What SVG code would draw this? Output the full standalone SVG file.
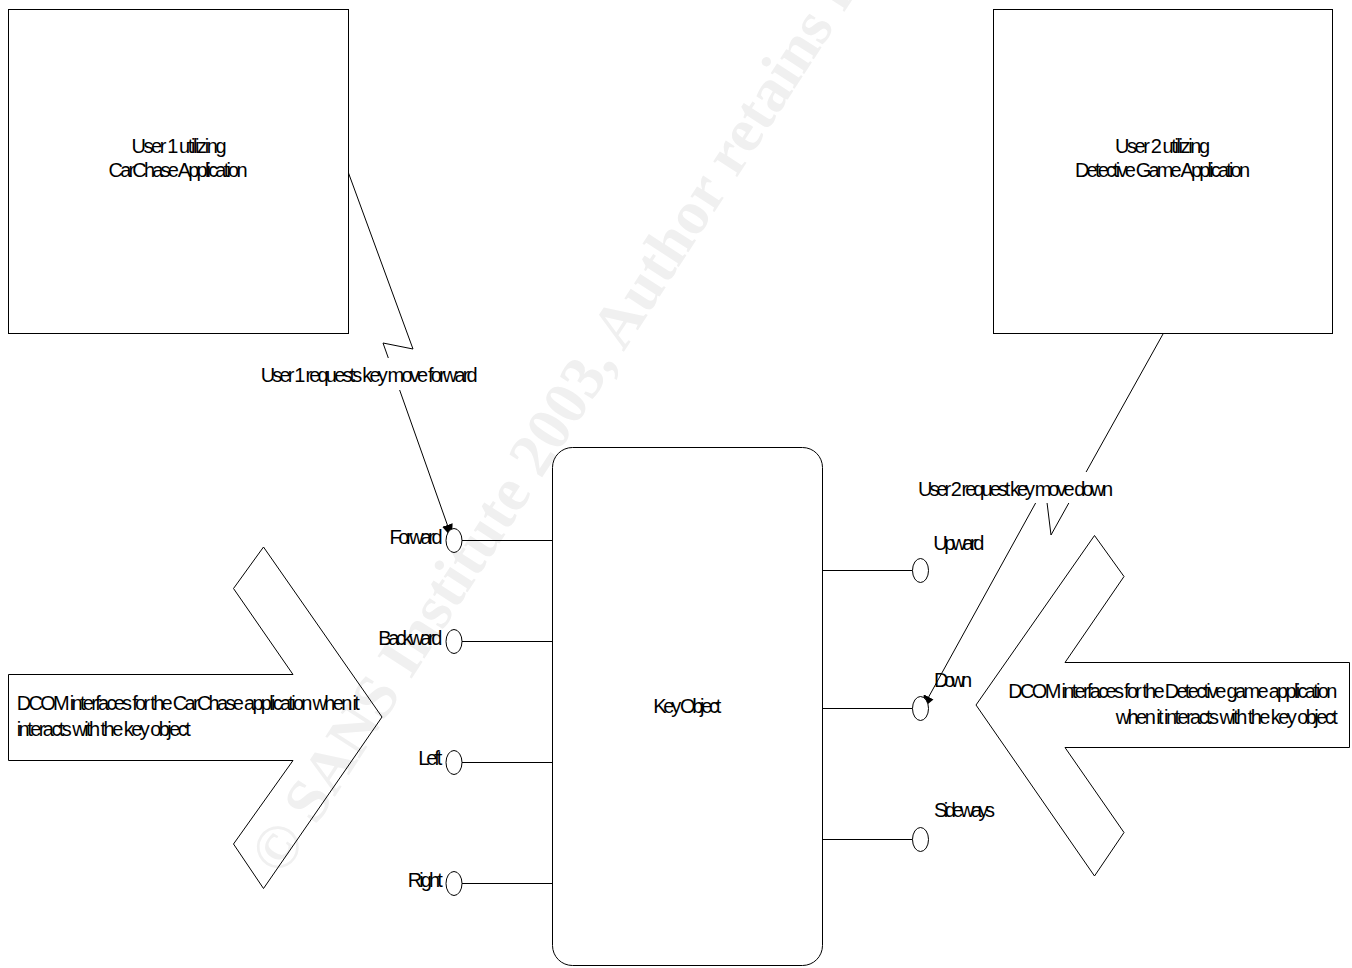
<svg xmlns="http://www.w3.org/2000/svg" width="1352" height="968" viewBox="0 0 1352 968">
<defs>
<style>
.shape{fill:none;stroke:#000;stroke-width:1}
.port{fill:#fff;stroke:#000;stroke-width:1}
.line{fill:none;stroke:#000;stroke-width:1}
.lbl{font-family:"Liberation Sans",Arial,sans-serif;font-size:20px;fill:#000}
.bg{fill:#fff;stroke:none}
.wm{font-family:"Liberation Serif","Times New Roman",serif;font-weight:bold;font-size:62px;fill:#f0f0f0}
</style>
<marker id="ah" viewBox="0 0 10 8" refX="10" refY="4" markerWidth="14" markerHeight="11" markerUnits="userSpaceOnUse" orient="auto">
<path d="M0,0 L10,4 L0,8 z" fill="#000"/>
</marker>
</defs>
<rect width="1352" height="968" fill="#fff"/>
<g id="watermark">
<text class="wm" transform="translate(282,878) rotate(-57)">© SANS Institute 2003, Author retains full rights.</text>
</g>
<g id="user1">
<rect class="shape" x="8.5" y="9.5" width="340" height="324"/>
<text class="lbl" x="131.5" y="153" textLength="95">User 1 utilizing</text>
<text class="lbl" x="108.5" y="177" textLength="139">CarChase Application</text>
</g>
<g id="user2">
<rect class="shape" x="993.5" y="9.5" width="339" height="324"/>
<text class="lbl" x="1115" y="153" textLength="95">User 2 utilizing</text>
<text class="lbl" x="1075" y="177" textLength="175">Detective Game Application</text>
</g>
<g id="key-object">
<rect class="shape" x="552.5" y="447.5" width="270" height="518" rx="20" ry="20"/>
<text class="lbl" x="653.3" y="713" textLength="68">Key Object</text>
</g>
<g id="arrow-carchase">
<path class="shape" d="M8.5,674.5 L293,674.5 L233.5,588.5 L263.5,547 L382,717 L263.5,888.5 L233.5,844 L293,760.5 L8.5,760.5 Z"/>
<text class="lbl" x="16.7" y="710" textLength="343">DCOM interfaces for the CarChase application when it</text>
<text class="lbl" x="16.7" y="736" textLength="174">interacts with the key object</text>
</g>
<g id="arrow-detective">
<path class="shape" d="M1349.5,662.5 L1065,662.5 L1124,576.5 L1094.5,535.5 L976,705 L1094.5,876 L1124,832.5 L1065,747.5 L1349.5,747.5 Z"/>
<text class="lbl" x="1008.3" y="698" textLength="329">DCOM interfaces for the Detective game application</text>
<text class="lbl" x="1115.7" y="724" textLength="222">when it interacts with the key object</text>
</g>
<g id="connectors">
<line class="line" x1="462" y1="540.5" x2="552.5" y2="540.5"/>
<line class="line" x1="462" y1="641.5" x2="552.5" y2="641.5"/>
<line class="line" x1="462" y1="762.5" x2="552.5" y2="762.5"/>
<line class="line" x1="462" y1="883.5" x2="552.5" y2="883.5"/>
<line class="line" x1="822.5" y1="570.5" x2="912.5" y2="570.5"/>
<line class="line" x1="822.5" y1="708.5" x2="912.5" y2="708.5"/>
<line class="line" x1="822.5" y1="839.5" x2="912.5" y2="839.5"/>
<polyline class="line" points="348.5,173 413,349 383,343 452,538" marker-end="url(#ah)"/>
<polyline class="line" points="1163,334 1051,535 1045,486 922,709" marker-end="url(#ah)"/>
<rect class="bg" x="258" y="358" width="223" height="32"/>
<text class="lbl" x="260.7" y="381.7" textLength="217">User 1 requests key move forward</text>
<rect class="bg" x="915" y="472" width="201" height="31"/>
<text class="lbl" x="918" y="495.5" textLength="195">User 2 request key move down</text>
</g>
<g id="port-forward">
<ellipse class="port" cx="454" cy="540.5" rx="8" ry="12"/>
<text class="lbl" x="389.5" y="544" textLength="53">Forward</text>
</g>
<g id="port-backward">
<ellipse class="port" cx="454" cy="641.5" rx="8" ry="12"/>
<text class="lbl" x="378.3" y="645" textLength="64">Backward</text>
</g>
<g id="port-left">
<ellipse class="port" cx="454" cy="762.5" rx="8" ry="12"/>
<text class="lbl" x="418.3" y="765" textLength="24">Left</text>
</g>
<g id="port-right">
<ellipse class="port" cx="454" cy="883.5" rx="8" ry="12"/>
<text class="lbl" x="407.7" y="887" textLength="35">Right</text>
</g>
<g id="port-upward">
<ellipse class="port" cx="920.5" cy="570.5" rx="8" ry="12"/>
<text class="lbl" x="933.3" y="550" textLength="51">Upward</text>
</g>
<g id="port-down">
<ellipse class="port" cx="920.5" cy="708.5" rx="8" ry="12"/>
<text class="lbl" x="934" y="687" textLength="38">Down</text>
</g>
<g id="port-sideways">
<ellipse class="port" cx="920.5" cy="839.5" rx="8" ry="12"/>
<text class="lbl" x="934" y="817" textLength="61">Sideways</text>
</g>
</svg>
